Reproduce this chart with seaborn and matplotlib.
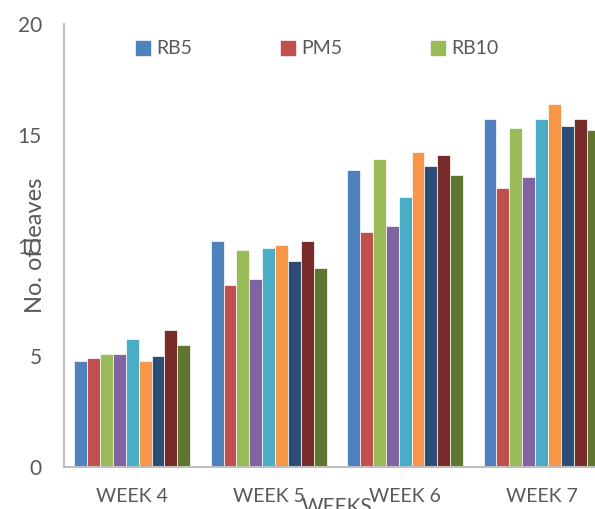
import matplotlib
matplotlib.use("Agg")
import matplotlib.pyplot as plt
from matplotlib.lines import Line2D
import seaborn as sns
import pandas as pd

weeks = ["WEEK 4", "WEEK 5", "WEEK 6", "WEEK 7"]
series = ["RB5", "PM5", "RB10", "PM10", "RB15", "PM15", "RB20", "PM20", "Control"]
values = {
    "RB5":     [4.8, 10.2, 13.4, 15.7],
    "PM5":     [4.9, 8.2, 10.6, 12.6],
    "RB10":    [5.1, 9.8, 13.9, 15.3],
    "PM10":    [5.1, 8.5, 10.9, 13.1],
    "RB15":    [5.8, 9.9, 12.2, 15.7],
    "PM15":    [4.8, 10.0, 14.2, 16.4],
    "RB20":    [5.0, 9.3, 13.6, 15.4],
    "PM20":    [6.2, 10.2, 14.1, 15.7],
    "Control": [5.5, 9.0, 13.2, 15.2],
}
colors = ["#4F81BD", "#C0504D", "#9BBB59", "#8064A2", "#4BACC6",
          "#F79646", "#2C4D75", "#772C2A", "#5F7530"]
yticks = [0, 5, 10, 15, 20]

rows = [(w, s, values[s][i]) for s in series for i, w in enumerate(weeks)]
df = pd.DataFrame(rows, columns=["week", "series", "value"])

sns.set_style("white")
plt.rcParams["font.family"] = ["Lato", "DejaVu Sans"]
text_color = "#595959"
axis_color = "#BFBFBF"

fig = plt.figure(figsize=(5.95, 5.09), dpi=100)
ax = fig.add_axes([64 / 595, 42 / 509, 545.7 / 595, 443 / 509])

sns.barplot(data=df, x="week", y="value", hue="series", hue_order=series,
            order=weeks, palette=colors, saturation=1, width=0.85,
            errorbar=None, edgecolor="white", linewidth=0.5, legend=False, ax=ax)

ax.set_ylim(0, 20)
ax.set_xlim(-0.5, 3.5)
ax.set_yticks(yticks)
ax.set_yticklabels([str(t) for t in yticks])
ax.tick_params(axis="both", length=0, colors=text_color)
ax.tick_params(axis="y", pad=16, labelsize=15)
ax.tick_params(axis="x", pad=15, labelsize=14)

for side in ["top", "right"]:
    ax.spines[side].set_visible(False)
for side in ["left", "bottom"]:
    ax.spines[side].set_color(axis_color)
    ax.spines[side].set_linewidth(1.5)

ax.set_ylabel("No. of leaves", fontsize=17, color=text_color)
ax.yaxis.set_label_coords(-0.033, 0.5)
ax.set_xlabel("WEEKS", fontsize=15, color=text_color)
ax.xaxis.set_label_coords(0.5, -0.068)

handles = [Line2D([], [], marker="s", linestyle="none", markersize=10,
                  markerfacecolor=c, markeredgecolor=c) for c in colors[:3]]
fig.legend(handles, series[:3], loc="center", ncol=3, frameon=False,
           bbox_to_anchor=(317 / 595, 1 - 49 / 509), fontsize=14,
           labelcolor=text_color, handlelength=0.8, handletextpad=0.3,
           columnspacing=4.5)

fig.savefig("out.png", dpi=100)
